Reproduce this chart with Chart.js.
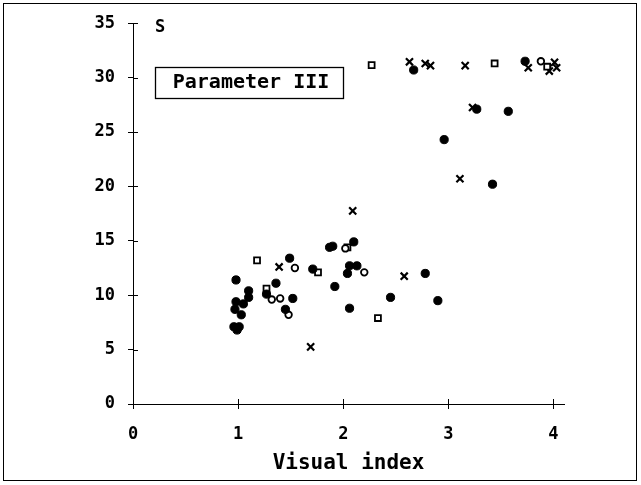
<!DOCTYPE html>
<html><head><meta charset="utf-8">
<script src="https://cdn.jsdelivr.net/npm/chart.js@4"></script>
<style>html,body{margin:0;padding:0;background:#fff}canvas{display:block}</style>
</head><body>
<canvas id="c" width="641" height="485"></canvas>
<script>
const xTicks = [0, 1, 2, 3, 4];
const yTicks = [0, 5, 10, 15, 20, 25, 30, 35];
const xTitle = 'Visual index';
const yLabel = 'S';
const boxLabel = 'Parameter III';

const filledX = [0.98,1.10,1.10,0.98,1.05,0.97,1.03,0.96,1.01,0.99,1.27,1.36,1.49,1.52,1.45,1.71,1.87,1.90,2.10,2.06,2.13,2.04,1.92,2.06,2.45,2.78,2.90,2.96,3.42,3.27,3.57,2.67,3.73];
const filledY = [11.4,10.4,9.8,9.4,9.2,8.7,8.2,7.1,7.1,6.8,10.1,11.1,13.4,9.7,8.7,12.4,14.4,14.5,14.9,12.7,12.7,12.0,10.8,8.8,9.8,12.0,9.5,24.3,20.2,27.1,26.9,30.7,31.5];

const openX = [1.32,1.40,1.48,1.54,2.02,2.20,3.88];
const openY = [9.6,9.7,8.2,12.5,14.3,12.1,31.5];

const squareX = [1.18,1.27,1.76,2.04,2.33,2.27,3.44,3.94];
const squareY = [13.2,10.6,12.1,14.4,7.9,31.15,31.3,31.0];

const crossX = [1.39,1.69,2.09,2.58,3.11,3.23,2.63,2.78,2.83,3.16,3.76,4.01,4.03,3.96];
const crossY = [12.6,5.25,17.75,11.75,20.7,27.25,31.45,31.3,31.1,31.1,30.9,31.4,30.9,30.6];

const pts = (xs, ys) => xs.map((x, i) => ({x, y: ys[i]}));
const FONT = "'DejaVu Sans Mono', 'Liberation Mono', monospace";

const overlay = {
  id: 'overlay',
  beforeDraw(chart) {
    const ctx = chart.ctx;
    ctx.save();
    ctx.fillStyle = '#fff';
    ctx.fillRect(0, 0, chart.width, chart.height);
    ctx.strokeStyle = '#000';
    ctx.lineWidth = 1;
    ctx.strokeRect(3.5, 3.5, 633, 477);
    ctx.restore();
  },
  afterDraw(chart) {
    const ctx = chart.ctx;
    const xs = chart.scales.x, ys = chart.scales.y;
    const a = chart.chartArea;
    ctx.save();
    ctx.strokeStyle = '#000';
    ctx.lineWidth = 1;
    ctx.beginPath();
    xTicks.forEach(v => {
      const p = Math.round(xs.getPixelForValue(v)) + 0.5;
      ctx.moveTo(p, a.bottom); ctx.lineTo(p, a.bottom - 5);
    });
    yTicks.forEach(v => {
      const p = Math.round(ys.getPixelForValue(v)) + 0.5;
      ctx.moveTo(a.left, p); ctx.lineTo(a.left + 5, p);
    });
    ctx.stroke();
    ctx.fillStyle = '#000';
    ctx.font = "bold 17px " + FONT;
    ctx.textBaseline = 'middle';
    ctx.textAlign = 'left';
    ctx.fillText(yLabel, 155, 28);
    ctx.lineWidth = 1.3;
    ctx.strokeRect(155.5, 67.5, 188, 31);
    ctx.font = "bold 20px " + FONT;
    ctx.textAlign = 'center';
    ctx.fillText(boxLabel, 251, 83);
    ctx.restore();
  }
};

new Chart(document.getElementById('c'), {
  type: 'scatter',
  data: {
    datasets: [
      {data: pts(filledX, filledY), pointStyle: 'circle', pointRadius: 4.1, backgroundColor: '#000', borderColor: '#000', borderWidth: 1},
      {data: pts(openX, openY), pointStyle: 'circle', pointRadius: 3.3, backgroundColor: '#fff', borderColor: '#000', borderWidth: 1.8},
      {data: pts(squareX, squareY), pointStyle: 'rect', pointRadius: 4.2, backgroundColor: '#fff', borderColor: '#000', borderWidth: 1.8},
      {data: pts(crossX, crossY), pointStyle: 'crossRot', pointRadius: 5, backgroundColor: '#000', borderColor: '#000', borderWidth: 2.2}
    ]
  },
  options: {
    responsive: false,
    animation: false,
    devicePixelRatio: 1,
    layout: {padding: {left: 0, top: 22, right: 77, bottom: 0}},
    plugins: {legend: {display: false}, tooltip: {enabled: false}},
    scales: {
      x: {
        type: 'linear', min: 0, max: 4.1,
        afterBuildTicks: s => { s.ticks = xTicks.map(v => ({value: v})); },
        afterFit: s => { s.height = 81; },
        grid: {drawOnChartArea: false, drawTicks: true, tickLength: 5, color: '#000', lineWidth: 1},
        border: {display: true, color: '#000', width: 1},
        ticks: {color: '#000', font: {family: FONT, size: 17, weight: 'bold'}, padding: 15, maxRotation: 0},
        title: {display: true, text: xTitle, color: '#000', font: {family: FONT, size: 21, weight: 'bold'}, padding: {top: 0, bottom: 9}}
      },
      y: {
        type: 'linear', min: 0, max: 35,
        afterBuildTicks: s => { s.ticks = yTicks.map(v => ({value: v})); },
        afterFit: s => { s.width = 133; },
        grid: {drawOnChartArea: false, drawTicks: true, tickLength: 5, color: '#000', lineWidth: 1},
        border: {display: true, color: '#000', width: 1},
        ticks: {color: '#000', font: {family: FONT, size: 17, weight: 'bold'}, padding: 13}
      }
    }
  },
  plugins: [overlay]
});
</script>
</body></html>
